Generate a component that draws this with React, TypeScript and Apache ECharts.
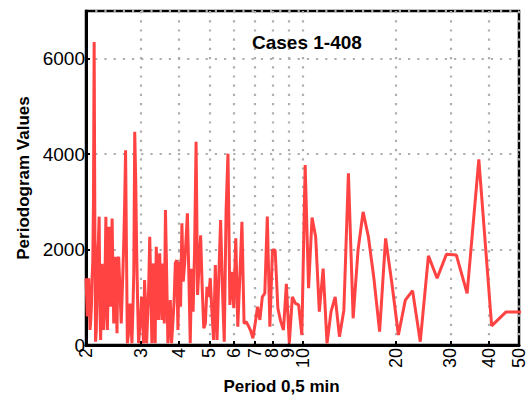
import React, { useEffect, useRef } from "react";
import * as echarts from "echarts";

// Number of cases in the series; the periodogram's harmonics k give periods N/k.
const N_CASES = 408;
// Harmonic numbers, left to right (shortest period first).
const harmonics: number[] = [];
for (let k = 204; k >= 8; k--) harmonics.push(k);

// Periodogram values, for k = 204 down to 8.
const periodogramValues: number[] = [
  1400, 1000, 600, 1300, 1400, 900, 315, 500, 800, 1400, // 204-195
  1720, 3000, 6350, 2500, 70, 300, 1200, 1930, 2200, 2690, // 194-185
  800, 105, 900, 1700, 1000, 315, 700, 1500, 2690, 1200, // 184-175
  315, 1300, 2480, 1400, 800, 1700, 2650, 1500, 450, 1100, // 174-165
  1850, 1000, 245, 1800, 1850, 1400, 900, 450, 1000, 1570, // 164-155
  2200, 3000, 4080, 2000, 35, 200, 400, 870, 500, 35, // 154-145
  700, 1500, 4470, 3500, 1990, 900, 35, 300, 525, 1010, // 144-135
  600, 35, 1360, 800, 35, 600, 1220, 2270, 1200, 35, // 134-125
  1710, 900, 35, 2060, 1300, 525, 1920, 1200, 525, 1710, // 124-115
  450, 2830, 1500, 35, 300, 940, 35, 450, 900, 1710, // 114-105
  1780, 315, 1750, 800, 2550, 1330, 1700, 2200, 2760, 1500, // 104-95
  35, 1600, 700, 2000, 4260, 1050, 1700, 2300, 1200, 350, // 94-85
  450, 1220, 1010, 1400, 700, 105, 1675, 105, 1430, 2620, // 84-75
  1200, 70, 2830, 4010, 840, 1535, 770, 2235, 385, 1430, // 74-65
  2580, 450, 490, 400, 300, 140, 450, 800, 525, 1010, // 64-55
  1080, 2690, 385, 1990, 1990, 770, 500, 315, 1280, 35, // 54-45
  1010, 870, 840, 210, 3770, 1190, 2670, 2270, 700, 1600, // 44-35
  35, 700, 1010, 175, 730, 3600, 560, 1990, 2790, 2270, // 34-25
  1400, 280, 2235, 1300, 210, 940, 1140, 70, 1870, 1400, // 24-15
  1900, 1885, 1080, 3890, 400, 690, 690, // 14-8
];

const periods: number[] = harmonics.map((k) => N_CASES / k);

const xTickValues = [2, 3, 4, 5, 6, 7, 8, 9, 10, 20, 30, 40, 50];
const yTickValues = [0, 2000, 4000, 6000];

const TITLE = "Cases 1-408";
const X_NAME = "Period 0,5 min";
const Y_NAME = "Periodogram Values";

const FONT = "'Liberation Sans', Arial, Helvetica, sans-serif";

export default function App() {
  const ref = useRef<HTMLDivElement>(null);

  useEffect(() => {
    if (!ref.current) return;
    const chart = echarts.init(ref.current, null, { renderer: "svg" });
    const gridLine = { color: "#aeaeae", width: 2.2, type: [2.2, 7] as any };
    chart.setOption({
      animation: false,
      backgroundColor: "#ffffff",
      title: {
        text: TITLE,
        left: 252,
        top: 33,
        padding: 0,
        textStyle: { fontFamily: FONT, fontSize: 19, fontWeight: "bold", color: "#000" },
      },
      grid: {
        left: 86,
        right: 4,
        top: 11,
        bottom: 59,
        show: true,
        borderColor: "#000",
        borderWidth: 2.5,
        backgroundColor: "transparent",
      },
      xAxis: {
        type: "log",
        logBase: 10,
        min: 2,
        max: 50,
        name: X_NAME,
        nameLocation: "middle",
        nameGap: 33,
        nameTextStyle: {
          fontFamily: FONT,
          fontSize: 17,
          fontWeight: "bold",
          color: "#000",
          padding: [0, 42, 0, 0],
        },
        axisLine: { show: true, lineStyle: { color: "#000", width: 3 } },
        axisTick: {
          show: true,
          inside: true,
          length: 4,
          customValues: xTickValues,
          lineStyle: { color: "#000", width: 2 },
        },
        axisLabel: {
          customValues: xTickValues,
          rotate: 90,
          margin: 3,
          fontFamily: FONT,
          fontSize: 18,
          color: "#000",
          formatter: (v: number) => String(Math.round(v)),
        },
        splitLine: { show: true, lineStyle: gridLine },
        minorTick: { show: false },
        minorSplitLine: { show: false },
      },
      yAxis: {
        type: "value",
        min: 0,
        max: 7000,
        interval: 2000,
        name: Y_NAME,
        nameLocation: "middle",
        nameGap: 52,
        nameRotate: 90,
        nameTextStyle: { fontFamily: FONT, fontSize: 17, fontWeight: "bold", color: "#000" },
        axisLine: { show: true, lineStyle: { color: "#000", width: 3 } },
        axisTick: {
          show: true,
          inside: true,
          length: 4,
          lineStyle: { color: "#000", width: 2 },
        },
        axisLabel: {
          customValues: yTickValues,
          margin: 1,
          fontFamily: FONT,
          fontSize: 19,
          color: "#000",
          formatter: (v: number) => String(Math.round(v)),
        },
        splitLine: { show: true, lineStyle: gridLine },
      },
      series: [
        {
          type: "line",
          data: periods.map((p, i) => [p, periodogramValues[i]]),
          symbol: "none",
          clip: true,
          lineStyle: { color: "#ff4343", width: 3 },
        },
      ],
    });
    return () => chart.dispose();
  }, []);

  return (
    <div
      ref={ref}
      style={{ position: "absolute", left: 0, top: 0, width: 528, height: 404 }}
    />
  );
}
